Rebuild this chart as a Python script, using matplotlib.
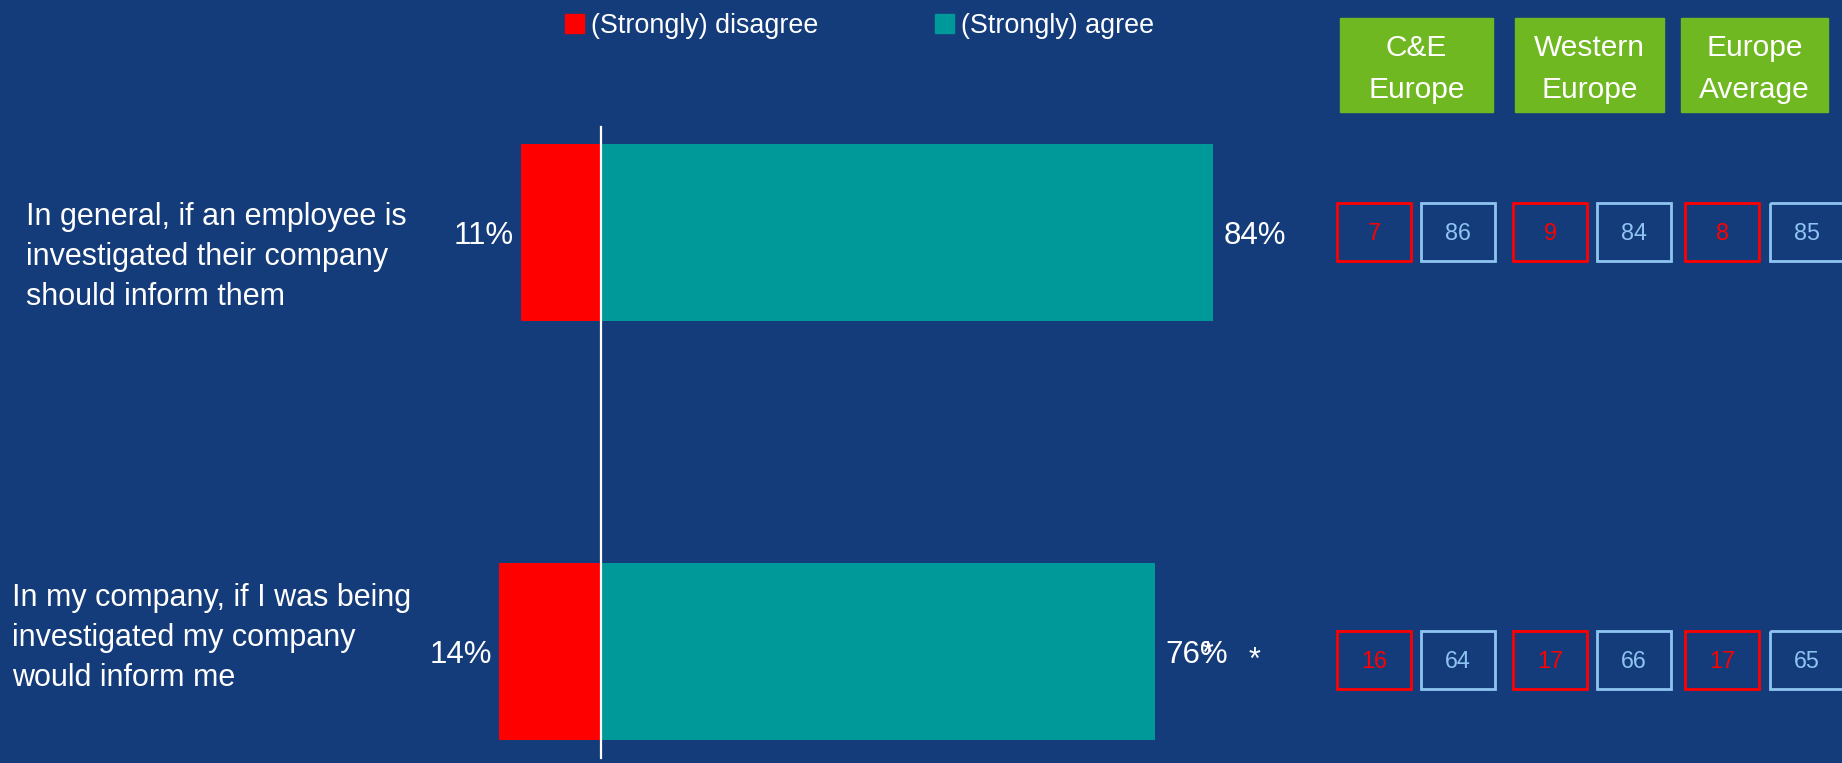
import matplotlib
matplotlib.use("Agg")
import matplotlib.pyplot as plt
from matplotlib.patches import Rectangle
from matplotlib.transforms import Affine2D

# ---------------- data ----------------
statements = [
    "In general, if an employee is\ninvestigated their company\nshould inform them",
    "In my company, if I was being\ninvestigated my company\nwould inform me",
]
disagree = [11, 14]
agree = [84, 76]
agree_marks = ["", "*"]
legend_labels = ["(Strongly) disagree", "(Strongly) agree"]
region_names = ["C&E\nEurope", "Western\nEurope", "Europe\nAverage"]
region_disagree = [[7, 16], [9, 17], [8, 17]]   # per region, per statement
region_agree = [[86, 64], [84, 66], [85, 65]]

# ---------------- style ----------------
BG = "#143B7A"
RED = "#FF0000"
TEAL = "#009999"
GREEN = "#70B822"
LBLUE = "#8FC4F2"
WHITE = "#FFFFFF"
FONT = ["Liberation Sans", "DejaVu Sans"]
plt.rcParams["font.family"] = FONT

W, H = 1842, 763
fig = plt.figure(figsize=(W / 100, H / 100), dpi=100, facecolor=BG)

# pixel transform (x from left, y from top)
pix = Affine2D().scale(1.0 / W, -1.0 / H).translate(0, 1) + fig.transFigure

ax = fig.add_axes([0, 0, 1, 1])
ax.set_facecolor(BG)
zero_px, scale = 601.0, 7.29
ax.set_xlim(-zero_px / scale, (W - zero_px) / scale)
c0, c1 = 232.5, 651.5
step = c1 - c0
ax.set_ylim((H - c0) / step, -c0 / step)
ax.axis("off")

ypos = list(range(len(statements)))
bh = 177 / step
ax.barh(ypos, [-d for d in disagree], height=bh, color=RED, zorder=2)
ax.barh(ypos, agree, height=bh, color=TEAL, zorder=2)
ax.plot([0, 0], [(127 - c0) / step, (758 - c0) / step], color=WHITE, lw=1.6, zorder=3)

base = 11.5 / step  # baseline offset below bar centre
for i, (d, a, m) in enumerate(zip(disagree, agree, agree_marks)):
    ax.text(-d - 0.93, i + base, f"{d}%", ha="right", va="baseline", color=WHITE, fontsize=22.5)
    ax.text(a + 1.35, i + base, f"{a}%", ha="left", va="baseline", color=WHITE, fontsize=22.5)
    if m:
        ax.text(a + 7.26, i + 11.5 / step, m, ha="center", va="baseline", color=WHITE, fontsize=22)
        ax.text(a + 13.6, i + 17.5 / step, m, ha="center", va="baseline", color=WHITE, fontsize=22)

# statement labels
label_pos = [(26, 257), (12, 638)]
for txt, (x, y) in zip(statements, label_pos):
    fig.text(x, y, txt, transform=pix, ha="left", va="center", color=WHITE,
             fontsize=22, linespacing=1.45)

# legend
for (sx, tx), lab, col in zip([(565, 14), (935, 961)], legend_labels, [RED, TEAL]):
    pass
legend_sq = [565, 935]
legend_tx = [591, 961]
for sx, tx, lab, col in zip(legend_sq, legend_tx, legend_labels, [RED, TEAL]):
    fig.patches.append(Rectangle((sx, 14), 19, 19, transform=pix, color=col))
    fig.text(tx, 33, lab, transform=pix, ha="left", va="baseline", color=WHITE, fontsize=19.4)

# region headers
header_x = [(1340, 1493), (1515, 1664), (1681, 1828)]
for (x0, x1), name in zip(header_x, region_names):
    fig.patches.append(Rectangle((x0, 18), x1 - x0, 94, transform=pix, color=GREEN))
    fig.text((x0 + x1) / 2, 69, name, transform=pix, ha="center", va="center",
             color=WHITE, fontsize=21.5, linespacing=1.68)

# region value boxes
box_x = [(1337, 1421), (1513, 1597), (1685, 1770)]
row_y = [203, 631]
bw, bhp = 74, 58
for r, (rx_d, rx_a) in enumerate(box_x):
    for i, y0 in enumerate(row_y):
        for x0, val, col in [(rx_d, region_disagree[r][i], RED), (rx_a, region_agree[r][i], LBLUE)]:
            fig.patches.append(Rectangle((x0, y0), bw, bhp, transform=pix, fill=False,
                                         edgecolor=col, lw=2.0))
            fig.text(x0 + bw / 2, y0 + bhp / 2 + 8.4, str(val), transform=pix, ha="center",
                     va="baseline", color=col, fontsize=16.8)

fig.savefig("out.png", dpi=100, facecolor=BG)
